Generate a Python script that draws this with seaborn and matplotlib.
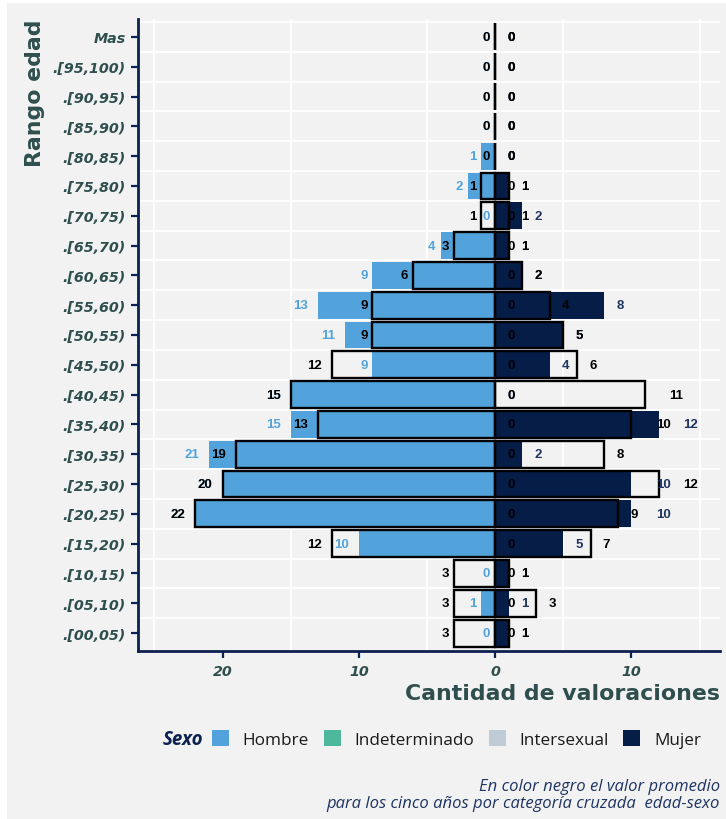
import numpy as np
import pandas as pd
import matplotlib
matplotlib.use("Agg")
import matplotlib.pyplot as plt
from matplotlib.patches import Patch, Rectangle
import seaborn as sns

# datos: valor del periodo y promedio de cinco años, por rango de edad
rangos = ["Mas", ".[95,100)", ".[90,95)", ".[85,90)", ".[80,85)", ".[75,80)",
          ".[70,75)", ".[65,70)", ".[60,65)", ".[55,60)", ".[50,55)", ".[45,50)",
          ".[40,45)", ".[35,40)", ".[30,35)", ".[25,30)", ".[20,25)", ".[15,20)",
          ".[10,15)", ".[05,10)", ".[00,05)"]
hombre = [0, 0, 0, 0, 1, 2, 0, 4, 9, 13, 11, 9, 15, 15, 21, 20, 22, 10, 0, 1, 0]
hombre_prom = [0, 0, 0, 0, 0, 1, 1, 3, 6, 9, 9, 12, 15, 13, 19, 20, 22, 12, 3, 3, 3]
mujer = [0, 0, 0, 0, 0, 1, 2, 1, 2, 8, 5, 4, 0, 12, 2, 10, 10, 5, 1, 1, 1]
mujer_prom = [0, 0, 0, 0, 0, 1, 1, 1, 2, 4, 5, 6, 11, 10, 8, 12, 9, 7, 1, 3, 1]

sexos = ["Hombre", "Indeterminado", "Intersexual", "Mujer"]
colores = ["#52a3db", "#4db89b", "#bfcbd5", "#061d48"]

df = pd.DataFrame({"rango": rangos, "hombre": hombre, "hombre_prom": hombre_prom,
                   "mujer": mujer, "mujer_prom": mujer_prom})
df["h_neg"] = -df["hombre"]
df["hp_neg"] = -df["hombre_prom"]

bg = "#f2f2f2"
navy = "#0d2150"
slate = "#2f4f4f"
navy_txt = "#1e3461"
fuente = "Open Sans"
fuente_ejes = "DejaVu Sans"

fig = plt.figure(figsize=(7.26, 8.2), dpi=100, facecolor="white")
fig.patches.append(Rectangle((7 / 726, 0), 1, 1 - 4 / 820, transform=fig.transFigure,
                             facecolor=bg, edgecolor="none", zorder=-10))
ax = fig.add_axes([138 / 726, 1 - 652 / 820, (720 - 138) / 726, (652 - 20) / 820])
ax.set_facecolor(bg)

sns.barplot(data=df, x="h_neg", y="rango", orient="h", color=colores[0], width=0.9,
            errorbar=None, saturation=1, ax=ax, zorder=2)
sns.barplot(data=df, x="mujer", y="rango", orient="h", color=colores[3], width=0.9,
            errorbar=None, saturation=1, ax=ax, zorder=2)
sns.barplot(data=df, x="hp_neg", y="rango", orient="h", color="black", fill=False,
            width=0.9, errorbar=None, linewidth=1.7, ax=ax, zorder=3)
sns.barplot(data=df, x="mujer_prom", y="rango", orient="h", color="black", fill=False,
            width=0.9, errorbar=None, linewidth=1.7, ax=ax, zorder=3)

# etiquetas
dw = 5.2  # ancho aprox. de un digito en puntos


def etiqueta(val, i, lado, color):
    s = str(val)
    w = len(s) * dw
    if lado == "izq":
        ax.annotate(s, xy=(-val, i), xytext=(-0.7 * w, 0), textcoords="offset points",
                    ha="right", va="center", fontsize=9.5, fontweight="bold",
                    family="Liberation Sans", color=color, zorder=5)
    else:
        ax.annotate(s, xy=(val, i), xytext=(1.7 * w, 0), textcoords="offset points",
                    ha="left", va="center", fontsize=9.5, fontweight="bold",
                    family="Liberation Sans", color=color, zorder=5)


for i in range(len(rangos)):
    etiqueta(hombre[i], i, "izq", colores[0])
    etiqueta(mujer[i], i, "der", navy_txt)
for i in range(len(rangos)):
    etiqueta(hombre_prom[i], i, "izq", "black")
    etiqueta(mujer_prom[i], i, "der", "black")
    etiqueta(0, i, "der", "black")

ax.set_xlim(-26.2, 16.5)
ax.set_ylim(20.6, -0.6)

ax.set_xticks([-20, -10, 0, 10])
ax.set_xticklabels(["20", "10", "0", "10"])
ax.set_xticks(np.arange(-25, 16, 5), minor=True)
ax.set_yticks(np.arange(-0.5, 20, 1), minor=True)
ax.grid(which="minor", axis="both", color="white", linewidth=1.3, zorder=0)
ax.set_axisbelow(True)

for sp in ["top", "right"]:
    ax.spines[sp].set_visible(False)
for sp in ["left", "bottom"]:
    ax.spines[sp].set_color(navy)
    ax.spines[sp].set_linewidth(2)

ax.tick_params(axis="both", which="major", color=navy, width=1.6, length=5, pad=4)
ax.tick_params(axis="both", which="minor", length=0)
for lab in ax.get_xticklabels() + ax.get_yticklabels():
    lab.set_fontfamily(fuente_ejes)
    lab.set_fontweight("bold")
    lab.set_fontstyle("oblique")
    lab.set_fontsize(10.3)
    lab.set_color(slate)

ax.set_xlabel("Cantidad de valoraciones", loc="right", fontsize=15.8, fontweight="bold",
              family=fuente_ejes, color=slate, labelpad=4)
ax.set_ylabel("Rango edad", loc="top", fontsize=15.8, fontweight="bold",
              family=fuente_ejes, color=slate)
ax.yaxis.set_label_coords(-0.16, 1.0)

# leyenda
fig.text(203 / 726, 1 - 740 / 820, "Sexo", ha="right", va="center", fontsize=13.5,
         fontweight="bold", fontstyle="italic", family=fuente, color=navy)
handles = [Patch(facecolor=c, edgecolor="none", label=s) for s, c in zip(sexos, colores)]
fig.legend(handles=handles, loc="center left", bbox_to_anchor=(212 / 726, 1 - 740 / 820),
           ncol=4, frameon=False, handlelength=1.0, handleheight=1.0,
           handletextpad=0.8, columnspacing=0.85, borderpad=0, borderaxespad=0,
           prop={"family": fuente, "size": 12.3}, labelcolor="#1a1a1a")

fig.text(720 / 726, 1 - 787 / 820, "En color negro el valor promedio", ha="right",
         va="center", fontsize=12, fontstyle="italic", family=fuente, color=navy_txt)
fig.text(720 / 726, 1 - 804 / 820, "para los cinco años por categoría cruzada  edad-sexo",
         ha="right", va="center", fontsize=12, fontstyle="italic", family=fuente,
         color=navy_txt)

fig.savefig("out.png", dpi=100, facecolor="white")
